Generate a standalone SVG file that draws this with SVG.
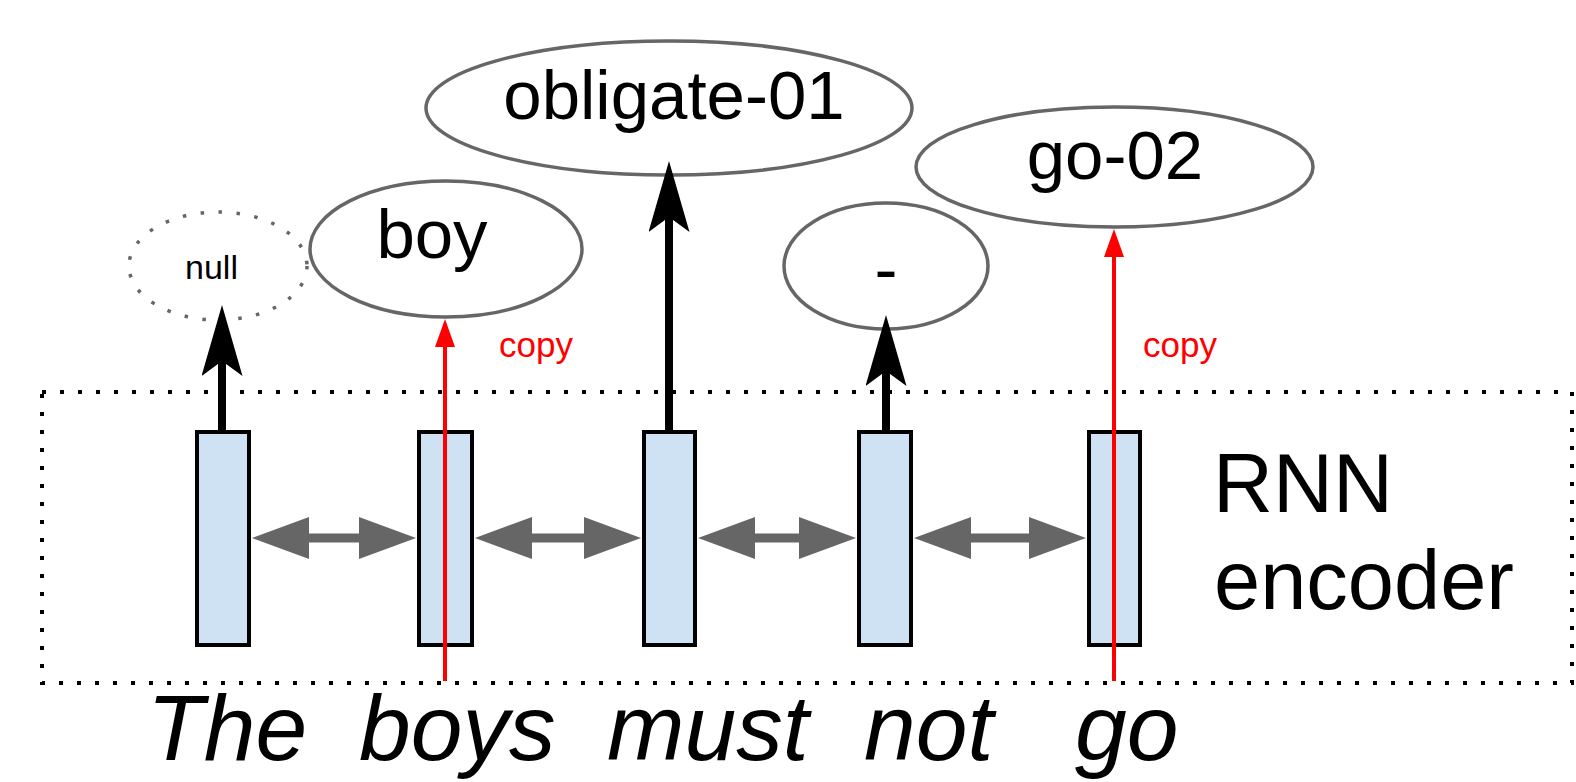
<svg xmlns="http://www.w3.org/2000/svg" width="1576" height="782" viewBox="0 0 1576 782">
  <style>
    .concept { fill: #ffffff; stroke: #666666; stroke-width: 3.5; }
    .concept-null { fill: none; stroke: #666666; stroke-width: 3.5; stroke-dasharray: 3.5 14.5; }
    .label { font-family: "Liberation Sans", Arial, sans-serif; fill: #000000; }
    .big { font-size: 69px; text-anchor: middle; }
    .cell { fill: #cfe2f3; stroke: #000000; stroke-width: 4; }
    .frame { fill: none; stroke: #000000; stroke-width: 4; stroke-dasharray: 4 14; }
    .emit { stroke: #000000; stroke-width: 8; fill: none; marker-end: url(#head-black); }
    .copy { stroke: #ff0000; stroke-width: 4; fill: none; marker-end: url(#head-red); }
    .recur { stroke: #666666; stroke-width: 9; fill: none; marker-start: url(#head-grey); marker-end: url(#head-grey); }
    .copy-label { font-family: "Liberation Sans", Arial, sans-serif; font-size: 35px; fill: #ff0000; }
    .sentence { font-family: "Liberation Sans", Arial, sans-serif; font-size: 93px; font-style: italic; fill: #000000; }
  </style>
  <defs>
    <marker id="head-black" markerUnits="userSpaceOnUse" markerWidth="71" markerHeight="41" refX="15" refY="20.5" orient="auto">
      <path d="M0,0 L71,20.5 L0,41 L15,20.5 Z" fill="#000000"/>
    </marker>
    <marker id="head-red" markerUnits="userSpaceOnUse" markerWidth="28" markerHeight="20" refX="1" refY="10" orient="auto">
      <path d="M0,0 L28,10 L0,20 Z" fill="#ff0000"/>
    </marker>
    <marker id="head-grey" markerUnits="userSpaceOnUse" markerWidth="57" markerHeight="42" refX="1" refY="21" orient="auto-start-reverse">
      <path d="M0,0 L57,21 L0,42 Z" fill="#666666"/>
    </marker>
  </defs>

  <!-- encoder frame -->
  <rect id="encoder-frame" class="frame" x="42" y="392" width="1530" height="291"/>

  <g id="label-rnn-encoder">
    <text class="label" x="1213" y="512" font-size="83">RNN</text>
    <text class="label" x="1214" y="609" font-size="83">encoder</text>
  </g>

  <!-- encoder cells -->
  <g id="cell-1"><rect class="cell" x="197" y="432" width="52" height="213"/></g>
  <g id="cell-2"><rect class="cell" x="419" y="432" width="53" height="213"/></g>
  <g id="cell-3"><rect class="cell" x="644" y="432" width="51" height="213"/></g>
  <g id="cell-4"><rect class="cell" x="859" y="432" width="52" height="213"/></g>
  <g id="cell-5"><rect class="cell" x="1089" y="432" width="51" height="213"/></g>

  <!-- concept nodes -->
  <g id="node-null">
    <ellipse class="concept-null" cx="218" cy="266" rx="89" ry="54"/>
    <text class="label" x="211.5" y="279" font-size="34" text-anchor="middle">null</text>
  </g>
  <g id="node-boy">
    <ellipse class="concept" cx="446" cy="249" rx="136" ry="68"/>
    <text class="label big" x="432" y="258">boy</text>
  </g>
  <g id="node-obligate">
    <ellipse class="concept" cx="669" cy="108" rx="243" ry="67"/>
    <text class="label big" x="674" y="119">obligate-01</text>
  </g>
  <g id="node-minus">
    <ellipse class="concept" cx="886" cy="266" rx="102" ry="63"/>
    <text class="label big" x="886" y="293">-</text>
  </g>
  <g id="node-go">
    <ellipse class="concept" cx="1114.5" cy="167" rx="198.5" ry="60"/>
    <text class="label big" x="1115" y="179">go-02</text>
  </g>

  <!-- connectors -->
  <g id="connectors">
    <line class="recur" x1="308" y1="538" x2="360" y2="538"/>
    <line class="recur" x1="531" y1="538" x2="585" y2="538"/>
    <line class="recur" x1="754" y1="538" x2="800" y2="538"/>
    <line class="recur" x1="970" y1="538" x2="1030" y2="538"/>

    <line class="emit" x1="222" y1="430" x2="222" y2="361"/>
    <line class="emit" x1="669" y1="430" x2="669" y2="217"/>
    <line class="emit" x1="886" y1="430" x2="886" y2="371"/>

    <line class="copy" x1="445" y1="681" x2="445" y2="346"/>
    <line class="copy" x1="1114" y1="681" x2="1114" y2="256"/>
    <text class="copy-label" x="499" y="357">copy</text>
    <text class="copy-label" x="1143" y="357">copy</text>
  </g>

  <!-- input sentence -->
  <text id="sentence" class="sentence" y="760"><tspan x="147">The</tspan> <tspan x="359">boys</tspan> <tspan x="607">must</tspan> <tspan x="864">not</tspan> <tspan x="1075">go</tspan></text>
</svg>
